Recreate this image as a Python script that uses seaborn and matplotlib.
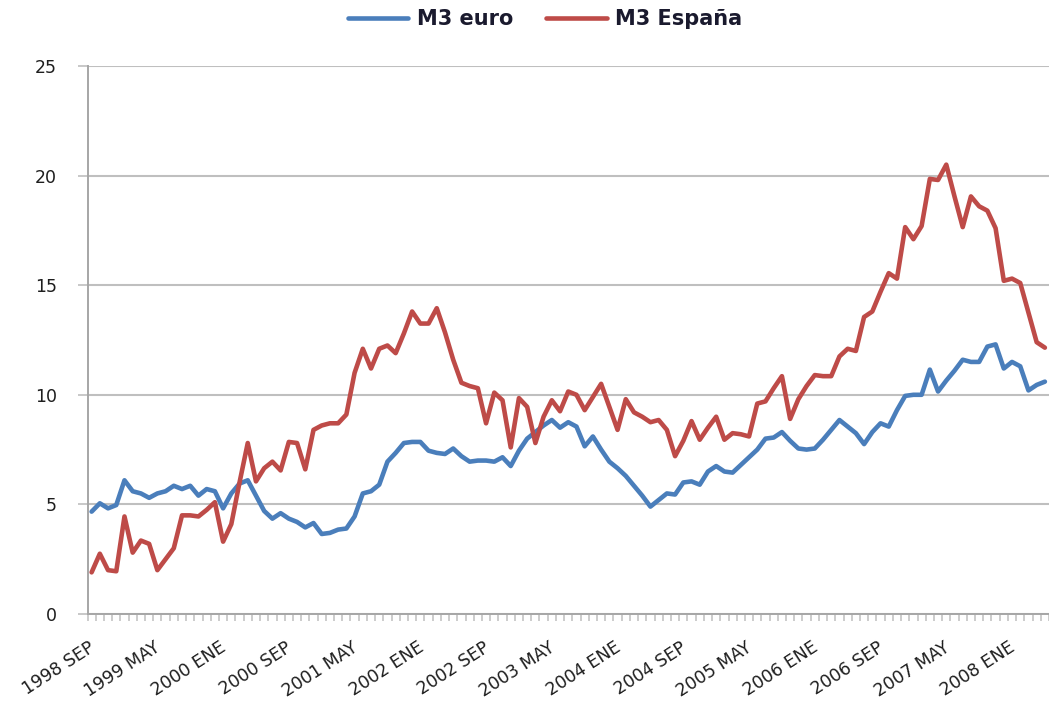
import numpy as np
import pandas as pd
import matplotlib
matplotlib.use("Agg")
import matplotlib.pyplot as plt
import matplotlib.transforms as mtrans
from matplotlib.lines import Line2D
import seaborn as sns

# ---------------- data ----------------
series_names = ["M3 euro", "M3 España"]

m3_euro = [
    4.67, 5.05, 4.82, 4.97, 6.10, 5.60, 5.50, 5.30, 5.50, 5.60,
    5.85, 5.70, 5.85, 5.40, 5.70, 5.60, 4.82, 5.50, 5.95, 6.10,
    5.40, 4.70, 4.35, 4.60, 4.35, 4.20, 3.95, 4.15, 3.65, 3.70,
    3.85, 3.90, 4.45, 5.50, 5.60, 5.90, 6.95, 7.35, 7.80, 7.85,
    7.85, 7.45, 7.35, 7.30, 7.55, 7.20, 6.95, 7.00, 7.00, 6.95,
    7.15, 6.75, 7.45, 8.00, 8.30, 8.60, 8.85, 8.50, 8.75, 8.55,
    7.65, 8.10, 7.50, 6.95, 6.65, 6.30, 5.85, 5.40, 4.90, 5.20,
    5.50, 5.45, 6.00, 6.05, 5.90, 6.50, 6.75, 6.50, 6.45, 6.80,
    7.15, 7.50, 8.00, 8.05, 8.30, 7.90, 7.55, 7.50, 7.55, 7.95,
    8.40, 8.85, 8.55, 8.25, 7.75, 8.30, 8.70, 8.55, 9.30, 9.95,
    10.00, 10.00, 11.15, 10.15, 10.65, 11.10, 11.60, 11.50, 11.50, 12.20,
    12.30, 11.20, 11.50, 11.30, 10.20, 10.45, 10.60,
]

m3_espana = [
    1.90, 2.75, 2.00, 1.95, 4.45, 2.80, 3.35, 3.20, 2.00, 2.50,
    3.00, 4.50, 4.50, 4.45, 4.75, 5.10, 3.30, 4.10, 6.00, 7.80,
    6.05, 6.65, 6.95, 6.55, 7.85, 7.80, 6.60, 8.40, 8.60, 8.70,
    8.70, 9.10, 11.00, 12.10, 11.20, 12.10, 12.25, 11.90, 12.80, 13.80,
    13.25, 13.25, 13.95, 12.85, 11.60, 10.55, 10.40, 10.30, 8.70, 10.10,
    9.75, 7.60, 9.85, 9.45, 7.80, 9.00, 9.75, 9.25, 10.15, 10.00,
    9.30, 9.90, 10.50, 9.45, 8.40, 9.80, 9.20, 9.00, 8.75, 8.85,
    8.40, 7.20, 7.90, 8.80, 7.95, 8.50, 9.00, 7.95, 8.25, 8.20,
    8.10, 9.60, 9.70, 10.30, 10.85, 8.90, 9.80, 10.40, 10.90, 10.85,
    10.85, 11.75, 12.10, 12.00, 13.55, 13.80, 14.70, 15.55, 15.30, 17.65,
    17.10, 17.70, 19.85, 19.80, 20.50, 19.05, 17.65, 19.05, 18.60, 18.40,
    17.60, 15.20, 15.30, 15.10, 13.75, 12.40, 12.15,
]

tick_labels = ["1998 SEP", "1999 MAY", "2000 ENE", "2000 SEP", "2001 MAY",
               "2002 ENE", "2002 SEP", "2003 MAY", "2004 ENE", "2004 SEP",
               "2005 MAY", "2006 ENE", "2006 SEP", "2007 MAY", "2008 ENE"]
tick_step = 8  # months between labelled categories

# ---------------- styling ----------------
sns.set_theme(style="white")
plt.rcParams["font.family"] = ["DejaVu Sans"]

colors = {"M3 euro": "#4A7EBB", "M3 España": "#BE4B48"}
grid_col = "#BFBFBF"
text_col = "#1e1e1e"

n = len(m3_euro)
t = np.arange(n)
df = pd.DataFrame({"t": t, "M3 euro": m3_euro, "M3 España": m3_espana})
long = df.melt(id_vars="t", var_name="serie", value_name="valor")

W, H = 1049, 704
fig = plt.figure(figsize=(W / 100, H / 100), dpi=100)
ax_left, ax_right = 87.5, 1049
ax_top, ax_bottom = 66, 614
ax = fig.add_axes([ax_left / W, (H - ax_bottom) / H,
                   (ax_right - ax_left) / W, (ax_bottom - ax_top) / H])

lw = 3.3
sns.lineplot(data=long, x="t", y="valor", hue="serie", hue_order=series_names,
             palette=colors, linewidth=lw, ax=ax, legend=False,
             estimator=None, sort=False)
for ln in ax.lines:
    ln.set_solid_capstyle("round")
    ln.set_solid_joinstyle("round")

ax.set_xlim(-0.45, 116.2)
ax.set_ylim(0, 25)
ax.set_xlabel("")
ax.set_ylabel("")

# y axis
ax.set_yticks(np.arange(0, 26, 5))
ax.yaxis.grid(True, color=grid_col, linewidth=1.5)
ax.xaxis.grid(False)
ax.set_axisbelow(True)
ax.tick_params(axis="y", which="major", direction="out", length=7, width=1.2,
               color=grid_col, pad=15, labelsize=12.5, labelcolor=text_col, left=True)

# x axis
ax.set_xticks(np.arange(0, n, tick_step)[:len(tick_labels)])
ax.set_xticklabels(tick_labels, rotation=33, ha="right", va="center",
                   rotation_mode="anchor")
ax.set_xticks(np.arange(-0.5, n + 0.5, 1), minor=True)
ax.tick_params(axis="x", which="major", length=0, pad=23, labelsize=12.5,
               labelcolor=text_col)
ax.tick_params(axis="x", which="minor", direction="out", length=5, width=1.1,
               color=grid_col, bottom=True)
offset = mtrans.ScaledTranslation(1.5 / 100, 0, fig.dpi_scale_trans)
for lab in ax.get_xticklabels():
    lab.set_transform(lab.get_transform() + offset)

for side in ["top", "right"]:
    ax.spines[side].set_visible(False)
for side in ["left", "bottom"]:
    ax.spines[side].set_color("#A6A6A6")
    ax.spines[side].set_linewidth(1.4)

# legend
handles = [Line2D([0], [0], color=colors[s], lw=lw) for s in series_names]
leg = fig.legend(handles, series_names, loc="center", ncol=2,
                 bbox_to_anchor=(545 / W, 1 - 19 / H), frameon=False,
                 handlelength=2.9, handletextpad=0.4, columnspacing=1.6,
                 prop={"size": 15, "weight": "bold"})
for txt in leg.get_texts():
    txt.set_color("#1a1a2e")

fig.savefig("out.png", dpi=100)
